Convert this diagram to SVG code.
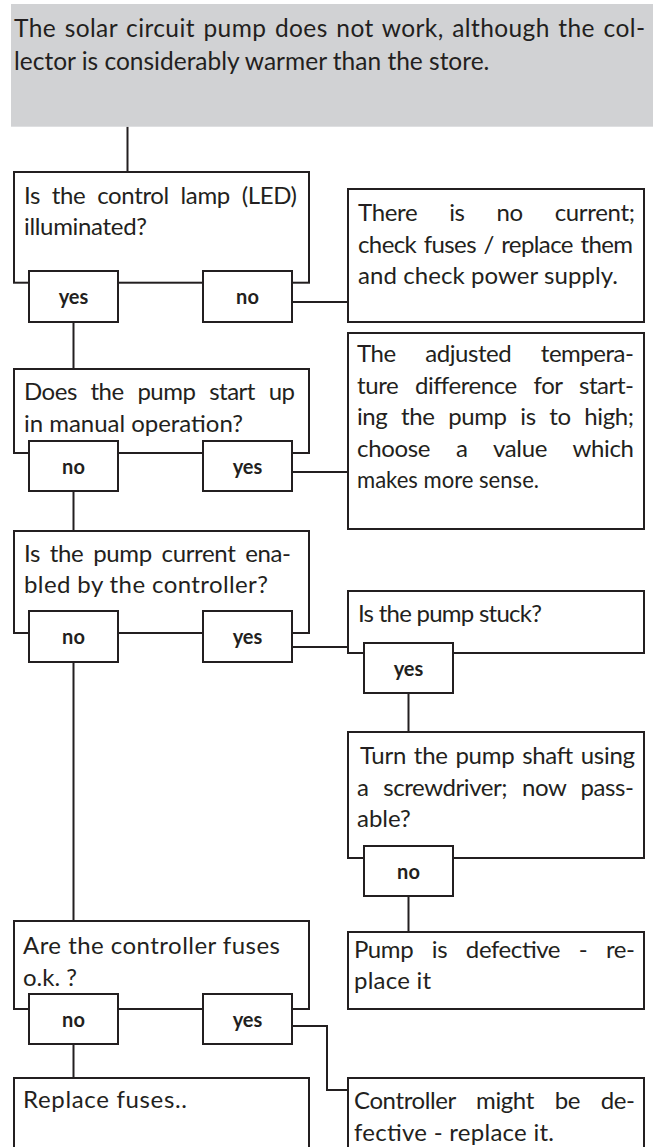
<svg xmlns="http://www.w3.org/2000/svg" width="653" height="1147" viewBox="0 0 653 1147">
<defs>
<style>
.box{fill:#fff;stroke:#231f20;stroke-width:2}
.lab{fill:#fff;stroke:#231f20;stroke-width:2}
.hdr{fill:#d1d2d4}
.t{font-family:Lato,"Open Sans",sans-serif;font-size:24px;fill:#231f20}
.h{font-family:Lato,"Open Sans",sans-serif;font-size:24.5px;fill:#231f20}
.b{font-family:Lato,"Open Sans",sans-serif;font-size:20px;font-weight:700;fill:#231f20;text-anchor:middle}
.c{fill:none;stroke:#231f20;stroke-width:2}
</style>
</defs>
<rect width="653" height="1147" fill="#fff"/>

<g id="connectors">
<path class="c" d="M127.5 126.7V172"/>
<path class="c" d="M73.5 322V369"/>
<path class="c" d="M292 302H348"/>
<path class="c" d="M73.5 491V531"/>
<path class="c" d="M292 472H348"/>
<path class="c" d="M73.5 662V921"/>
<path class="c" d="M292 647H348"/>
<path class="c" d="M408.5 693V732"/>
<path class="c" d="M408.5 896V932"/>
<path class="c" d="M73.5 1044V1078"/>
<path class="c" d="M292 1026H327V1090H348"/>
</g>

<g id="problem">
<rect class="hdr" x="11" y="4" width="642" height="122.7"/>
<text class="h" x="14" y="37" word-spacing="2" textLength="631" lengthAdjust="spacing">The solar circuit pump does not work, although the col-</text>
<text class="h" x="14" y="70">lector is considerably warmer than the store.</text>
</g>

<g id="q-led">
<rect class="box" x="14" y="172" width="295" height="110.7"/>
<text class="t" x="24" y="204" word-spacing="6" textLength="273">Is the control lamp (LED)</text>
<text class="t" x="24" y="235" textLength="123">illuminated?</text>
<g id="q-led-yes"><rect class="lab" x="29" y="271" width="89" height="51"/><text class="b" x="73.5" y="304">yes</text></g>
<g id="q-led-no"><rect class="lab" x="203" y="271" width="89" height="51"/><text class="b" x="247.5" y="304">no</text></g>
</g>

<g id="a-no-current">
<rect class="box" x="348" y="189" width="296" height="133"/>
<text class="t" x="358" y="221" word-spacing="26" textLength="277">There is no current;</text>
<text class="t" x="358" y="253" word-spacing="2" textLength="275">check fuses / replace them</text>
<text class="t" x="358" y="284" textLength="260">and check power supply.</text>
</g>

<g id="q-manual">
<rect class="box" x="14" y="369" width="295" height="84"/>
<text class="t" x="24" y="400" word-spacing="8" textLength="271">Does the pump start up</text>
<text class="t" x="24" y="432" textLength="219">in manual operation?</text>
<g id="q-manual-no"><rect class="lab" x="29" y="441" width="89" height="50"/><text class="b" x="73.5" y="474">no</text></g>
<g id="q-manual-yes"><rect class="lab" x="203" y="441" width="89" height="50"/><text class="b" x="247.5" y="474">yes</text></g>
</g>

<g id="a-temp-diff">
<rect class="box" x="348" y="333" width="296" height="196"/>
<text class="t" x="357" y="362" word-spacing="24" textLength="277">The adjusted tempera-</text>
<text class="t" x="357" y="394" word-spacing="11" textLength="277">ture difference for start-</text>
<text class="t" x="357" y="425" word-spacing="8" textLength="277">ing the pump is to high;</text>
<text class="t" x="357" y="457" word-spacing="20" textLength="277">choose a value which</text>
<text class="t" x="357" y="488" textLength="182" lengthAdjust="spacingAndGlyphs">makes more sense.</text>
</g>

<g id="q-enabled">
<rect class="box" x="14" y="531" width="295" height="102"/>
<text class="t" x="24" y="562" word-spacing="4" textLength="267">Is the pump current ena-</text>
<text class="t" x="24" y="593" textLength="244">bled by the controller?</text>
<g id="q-enabled-no"><rect class="lab" x="29" y="611" width="89" height="51"/><text class="b" x="73.5" y="644">no</text></g>
<g id="q-enabled-yes"><rect class="lab" x="203" y="611" width="89" height="51"/><text class="b" x="247.5" y="644">yes</text></g>
</g>

<g id="q-stuck">
<rect class="box" x="348" y="591" width="296" height="62"/>
<text class="t" x="358" y="622" textLength="184">Is the pump stuck?</text>
<g id="q-stuck-yes"><rect class="lab" x="364" y="643" width="89" height="50"/><text class="b" x="408.5" y="676">yes</text></g>
</g>

<g id="q-shaft">
<rect class="box" x="348" y="732" width="296" height="126"/>
<text class="t" x="360" y="764" word-spacing="2" textLength="275">Turn the pump shaft using</text>
<text class="t" x="357" y="796" word-spacing="9" textLength="277">a screwdriver; now pass-</text>
<text class="t" x="357" y="827">able?</text>
<g id="q-shaft-no"><rect class="lab" x="364" y="846" width="89" height="50"/><text class="b" x="408.5" y="879">no</text></g>
</g>

<g id="a-pump-defective">
<rect class="box" x="348" y="932" width="296" height="77"/>
<text class="t" x="354" y="958" word-spacing="13" textLength="281">Pump is defective - re-</text>
<text class="t" x="354" y="989" textLength="77">place it</text>
</g>

<g id="q-fuses">
<rect class="box" x="14" y="921" width="295" height="88"/>
<text class="t" x="23" y="954" textLength="257">Are the controller fuses</text>
<text class="t" x="23" y="986">o.k. ?</text>
<g id="q-fuses-no"><rect class="lab" x="29" y="994" width="89" height="50"/><text class="b" x="73.5" y="1027">no</text></g>
<g id="q-fuses-yes"><rect class="lab" x="203" y="994" width="89" height="50"/><text class="b" x="247.5" y="1027">yes</text></g>
</g>

<g id="a-replace-fuses">
<rect class="box" x="14" y="1078" width="295" height="90"/>
<text class="t" x="23" y="1108" textLength="164">Replace fuses..</text>
</g>

<g id="a-controller-defective">
<rect class="box" x="348" y="1078" width="296" height="90"/>
<text class="t" x="354" y="1109" word-spacing="15" textLength="281">Controller might be de-</text>
<text class="t" x="354" y="1141" textLength="200">fective - replace it.</text>
</g>
</svg>
